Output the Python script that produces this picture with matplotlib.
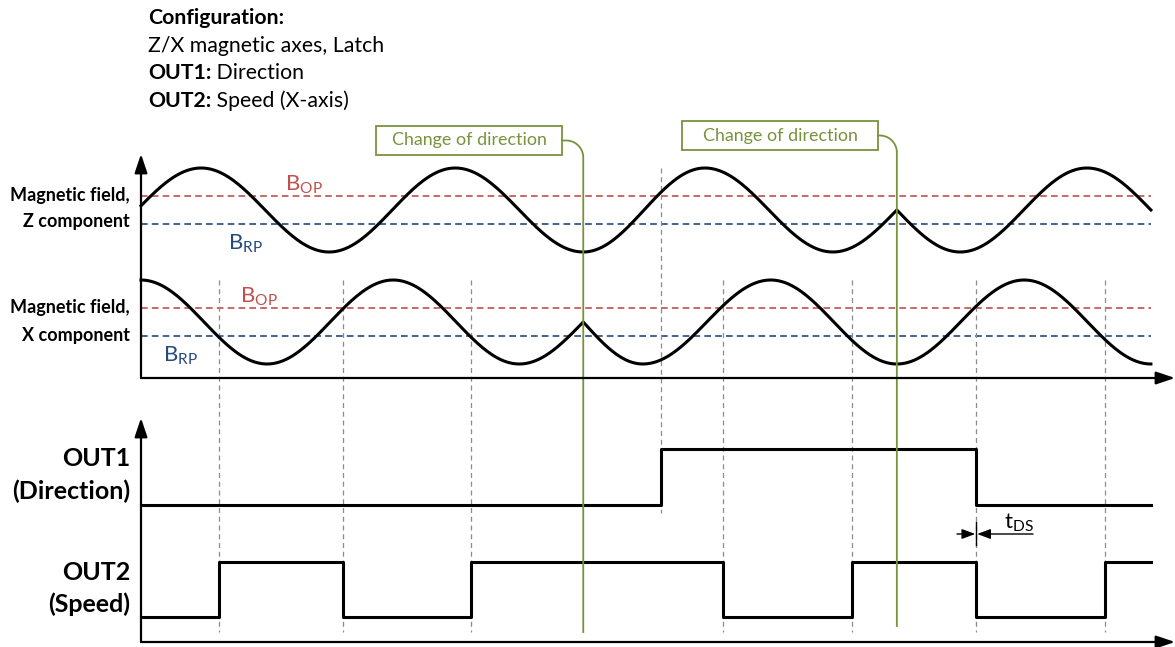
import numpy as np
import matplotlib.pyplot as plt
from matplotlib.patches import Rectangle

plt.rcParams['font.family'] = ['Lato', 'DejaVu Sans']
plt.rcParams['mathtext.default'] = 'regular'

# Time axis in quarter periods of the magnetic field rotation
# Key points of the field waveforms (peaks, valleys and direction reversal cusps),
# values normalised to the field amplitude
z_t = [0, 0.94, 2.94, 4.91, 6.91, 8.81, 10.81, 11.81, 12.80, 14.78, 15.78]
z_v = [0.1, 1, -1, 1, -1, 1, -1, 0, -1, 1, 0]
x_t = [0, 1.97, 3.94, 5.91, 6.91, 7.84, 9.84, 11.81, 13.80, 15.78]
x_v = [1, -1, 1, -1, 0, -1, 1, -1, 1, -1]
# Switching thresholds
b_op = 0.33
b_rp = -0.33
# Outputs
out1_t = [0, 8.13, 13.05, 15.78]
out1_v = [0, 1, 0, 0]
out2_t = [0, 1.22, 3.16, 5.16, 9.09, 11.11, 13.05, 15.06, 15.78]
out2_v = [0, 1, 0, 1, 0, 1, 0, 1, 1]
# Switching instants and the channel that triggers them
switch_t = [1.22, 3.16, 5.16, 8.13, 9.09, 11.11, 13.05, 15.06]
switch_src = ['X', 'X', 'X', 'Z', 'X', 'X', 'X', 'X']
# Direction changes of the magnet
dir_change_t = [6.91, 11.81]
t_ds_at = 13.05

# Layout (pixels)
W, H = 1175, 647
T0, PX_T = 141, 64
Z_C, X_C, AMP = 210, 322, 42
OUT1_LO, OUT1_HI = 505, 449
OUT2_LO, OUT2_HI = 617, 562
RED = '#c0504d'
BLUE = '#254a7c'
GREEN = '#77933c'
GREY = '#8c8c8c'


def tx(px):
    return (px - T0) / PX_T


def wave(tk, vk, n=80):
    # sinusoidal arc between consecutive key points
    ts, vs = [], []
    for i in range(len(tk) - 1):
        v0, v1 = np.clip(vk[i], -1, 1), np.clip(vk[i + 1], -1, 1)
        if v1 < v0:
            p0, p1 = np.arccos(v0), np.arccos(v1)
        else:
            p0, p1 = 2 * np.pi - np.arccos(v0), 2 * np.pi - np.arccos(v1)
        s = np.linspace(0, 1, n)
        ts.append(tk[i] + (tk[i + 1] - tk[i]) * s)
        vs.append(np.cos(p0 + (p1 - p0) * s))
    return np.concatenate(ts), np.concatenate(vs)


fig = plt.figure(figsize=(W / 100, H / 100), dpi=100)
ax = fig.add_axes([0, 0, 1, 1])
ax.set_xlim(tx(0), tx(W))
ax.set_ylim(H, 0)
ax.axis('off')

arrow = dict(arrowstyle='-|>,head_length=0.95,head_width=0.32', color='k', lw=1.6,
             mutation_scale=12, shrinkA=0, shrinkB=0)
# axes with arrows
for y0, y1 in [(378, 154), (642, 418)]:
    ax.annotate('', xy=(0, y1), xytext=(0, y0), arrowprops=arrow)
    ax.annotate('', xy=(tx(W), y0), xytext=(0, y0), arrowprops=arrow)

# threshold lines
t_end = z_t[-1]
for c in [Z_C, X_C]:
    ax.plot([0, t_end], [c - AMP * b_op] * 2, color=RED, lw=1.2, ls=(0, (4, 2.5)))
    ax.plot([0, t_end], [c - AMP * b_rp] * 2, color=BLUE, lw=1.2, ls=(0, (4, 2.5)))

# switching instants
for t, src in zip(switch_t, switch_src):
    if src == 'Z':
        ax.plot([t, t], [Z_C - AMP, OUT1_LO + 8], color=GREY, lw=0.9, ls=(0, (4, 3)))
    else:
        ax.plot([t, t], [X_C - AMP, OUT2_LO + 15], color=GREY, lw=0.9, ls=(0, (4, 3)))

# field waveforms
zt, zv = wave(z_t, z_v)
xt, xv = wave(x_t, x_v)
ax.plot(zt, Z_C - AMP * np.array(zv), color='k', lw=2.2)
ax.plot(xt, X_C - AMP * np.array(xv), color='k', lw=2.2)

# outputs
ax.plot(out1_t, [OUT1_LO - (OUT1_LO - OUT1_HI) * v for v in out1_v],
        drawstyle='steps-post', color='k', lw=2.2)
ax.plot(out2_t, [OUT2_LO - (OUT2_LO - OUT2_HI) * v for v in out2_v],
        drawstyle='steps-post', color='k', lw=2.2)

# change of direction callouts
boxes = [(376, 562, 126, 155), (682, 878, 121, 150)]
bottoms = [632, 626]
for t, (bx0, bx1, by0, by1), yb in zip(dir_change_t, boxes, bottoms):
    ax.add_patch(Rectangle((tx(bx0), by0), tx(bx1) - tx(bx0), by1 - by0,
                           fill=False, edgecolor=GREEN, lw=1.3))
    ax.text(tx((bx0 + bx1) / 2), (by0 + by1) / 2, 'Change of direction', color=GREEN,
            fontsize=12.9, ha='center', va='center')
    ym = (by0 + by1) / 2
    r = 17
    th = np.linspace(-np.pi / 2, 0, 30)
    cx = t - r / PX_T
    ax.plot(np.r_[tx(bx1), cx + r / PX_T * np.cos(th), t],
            np.r_[ym, ym + r + r * np.sin(th), yb], color=GREEN, lw=1.3)

# t_DS marker
ax.plot([t_ds_at, t_ds_at], [522, 545], color='k', lw=1)
small = dict(arrowstyle='-|>,head_length=0.8,head_width=0.3', color='k', lw=1,
             mutation_scale=10, shrinkA=0, shrinkB=0)
ax.annotate('', xy=(t_ds_at - 1 / PX_T, 534), xytext=(tx(957), 534), arrowprops=small)
ax.annotate('', xy=(t_ds_at + 1 / PX_T, 534), xytext=(tx(1033), 534), arrowprops=small)
ax.text(tx(1004), 529, '$t_{DS}$', fontsize=16, va='baseline')

# threshold labels
for px, py, s, c in [(285, 191, 'B$_{OP}$', RED), (228, 250, 'B$_{RP}$', BLUE),
                     (240, 303, 'B$_{OP}$', RED), (163, 362, 'B$_{RP}$', BLUE)]:
    ax.text(tx(px), py, s, color=c, fontsize=16, va='baseline')

# channel labels
for py, s, fs in [(196, 'Magnetic field,', 13), (222, 'Z component', 13),
                  (308, 'Magnetic field,', 13), (335, 'X component', 13),
                  (459, 'OUT1', 18), (491, '(Direction)', 18),
                  (572, 'OUT2', 18), (604, '(Speed)', 18)]:
    ax.text(tx(130), py, s, fontsize=fs, fontweight='bold', ha='right', va='center')

# configuration header
HFS = 15.3
ax.text(tx(148), 18, 'Configuration:', fontsize=HFS, fontweight='bold', va='center')
ax.text(tx(148), 46, 'Z/X magnetic axes, Latch', fontsize=HFS, va='center')
for py, key, val in [(73, 'OUT1:', ' Direction'), (101, 'OUT2:', ' Speed (X-axis)')]:
    k = ax.text(tx(148), py, key, fontsize=HFS, fontweight='bold', va='center')
    ax.annotate(val, xy=(1, 0.5), xycoords=k, fontsize=HFS, va='center')

fig.savefig('out.png', dpi=100)
